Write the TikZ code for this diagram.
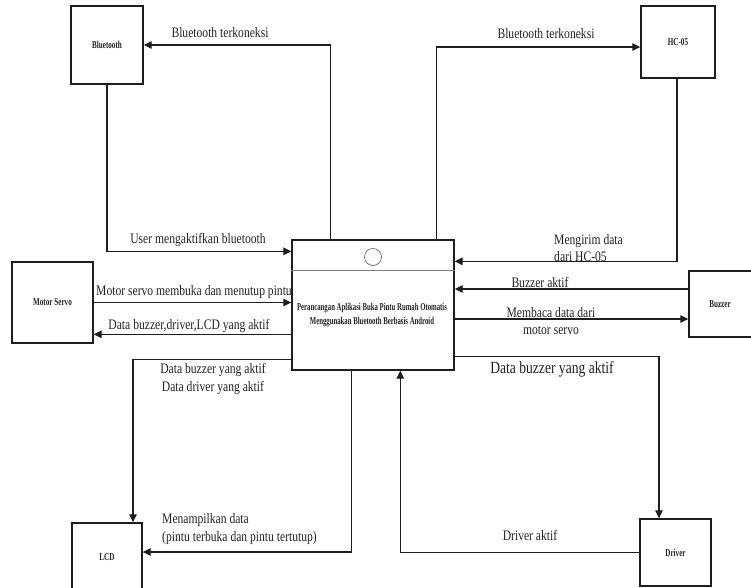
\documentclass[tikz,border=0pt]{standalone}
\usepackage{fontspec}
\setmainfont{Liberation Serif}
\usepackage{graphicx}
\usetikzlibrary{arrows.meta}
\newcommand\sqz[1]{\scalebox{0.8}[1]{#1}}
\newcommand\sqb[1]{\scalebox{0.68}[1]{\bfseries #1}}
\newcommand\sqm[1]{\scalebox{0.645}[1]{\bfseries #1}}
\definecolor{txt}{HTML}{222222}
\definecolor{ln}{HTML}{1E1E1E}
\begin{document}
\begin{tikzpicture}[x=1pt,y=-1pt,
  entity/.style={draw=ln, line width=1.4pt, rectangle, inner sep=0pt, text=txt,
    font=\fontsize{10.5}{14}\selectfont},
  arr/.style={draw=ln, line width=1.2pt, -{Triangle[length=8pt,width=7.5pt]}},
  lbl/.style={text=txt, inner sep=0pt, font=\fontsize{14.5}{17.5}\selectfont}]
\useasboundingbox (0,0) rectangle (751,587);
\clip (0,0) rectangle (751,587);
\fill[white] (0,0) rectangle (751,587);

% entities
\node[entity, minimum width=72pt, minimum height=78pt] (bt) at (107,45) {\sqb{Bluetooth}};
\node[entity, minimum width=74pt, minimum height=72pt] (hc) at (678,42) {\sqb{HC-05}};
\node[entity, minimum width=81pt, minimum height=81pt] (ms) at (52.5,302.5) {\sqb{Motor Servo}};
\node[entity, minimum width=71pt, minimum height=66pt] (bz) at (724.5,304) {\hspace*{-9pt}\sqb{Buzzer}};
\node[entity, minimum width=70pt, minimum height=77pt] (lcd) at (107,561.5) {\raisebox{9pt}{\sqb{LCD}}};
\node[entity, minimum width=71pt, minimum height=67pt] (dr) at (675.5,552.5) {\sqb{Driver}};

% main process
\node[entity, minimum width=162pt, minimum height=130pt, align=center] (main) at (373,305) {};
\draw[gray, line width=0.8pt] ([yshift=-31pt]main.north west) -- ([yshift=-31pt]main.north east);
\node[circle, draw=gray!80!black, line width=0.7pt, minimum size=17pt, inner sep=0pt] (circ) at (373,257) {};
\node[text=txt, align=center, inner sep=0pt, font=\fontsize{10.5}{14.5}\selectfont] (mtxt) at (372,315)
  {\sqm{Perancangan Aplikasi Buka Pintu Rumah Otomatis}\\\sqm{Menggunakan Bluetooth Berbasis Android}};

% connectors
\draw[arr] ([xshift=39pt]main.north west) |- (bt.east);
\draw[arr] (bt.south) |- ([yshift=-12pt]main.north west);
\draw[arr] (ms.east) -- (ms.east -| main.west);
\draw[arr] ([yshift=-95pt]main.north west) -- ([yshift=-95pt]main.north west -| ms.east);
\draw[arr] ([yshift=-120pt]main.north west) -| ([xshift=26pt]lcd.north);
\draw[arr] ([xshift=60pt]main.south west) |- ([yshift=9.5pt]lcd.east);
\draw[arr] ([xshift=145pt]main.north west) |- ([yshift=-5pt]hc.west);
\draw[arr] ([xshift=-1pt]hc.south) |- ([yshift=-22pt]main.north east);
\draw[arr] ([yshift=15pt]bz.west) -- ([yshift=15pt]bz.west -| main.east);
\draw[arr] ([yshift=-15pt]bz.west -| main.east) -- ([yshift=-15pt]bz.west);
\draw[arr] ([yshift=-117pt]main.north east) -| ([xshift=-16.5pt]dr.north);
\draw[arr] (dr.west) -| ([xshift=109pt]main.south west);

% labels
\node[lbl] (l1) at (220,33) {\sqz{Bluetooth terkoneksi}};
\node[lbl] (l2) at (198,240) {\sqz{User mengaktifkan bluetooth}};
\node[lbl] (l3) at (194,292) {\sqz{Motor servo membuka dan menutup pintu}};
\node[lbl] (l4) at (189,326) {\sqz{Data buzzer,driver,LCD yang aktif}};
\node[lbl, align=center] (l5) at (213,379) {\sqz{Data buzzer yang aktif}\\\sqz{Data driver yang aktif}};
\node[lbl, align=left, anchor=west] (l6) at (162,529) {\sqz{Menampilkan data}\\\sqz{(pintu terbuka dan pintu tertutup)}};
\node[lbl] (l7) at (546,34) {\sqz{Bluetooth terkoneksi}};
\node[lbl, align=left, anchor=west] (l8) at (554,248) {\sqz{Mengirim data}\\\sqz{dari HC-05}};
\node[lbl] (l9) at (540,282) {\sqz{Buzzer aktif}};
\node[lbl, align=center] (l10) at (551,321) {\sqz{Membaca data dari}\\\sqz{motor servo}};
\node[lbl, font=\fontsize{17}{20}\selectfont] (l11) at (552,369) {\sqz{Data buzzer yang aktif}};
\node[lbl] (l12) at (530,535) {\sqz{Driver aktif}};
\end{tikzpicture}
\end{document}
